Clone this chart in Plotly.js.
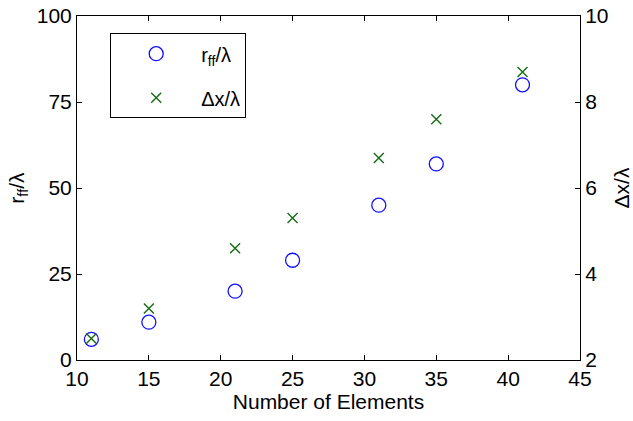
<!DOCTYPE html>
<html>
<head>
<meta charset="utf-8">
<script src="https://cdn.plot.ly/plotly-3.0.1.min.js"></script>
<style>
  html, body { margin: 0; padding: 0; background: #fff; }
  #chart { width: 633px; height: 421px; }
</style>
</head>
<body>
<div id="chart"></div>
<script>
// Array sizes (number of elements)
const elements = [11, 15, 21, 25, 31, 35, 41];
// Far-field distance normalised by wavelength (left axis)
const rffOverLambda = [6, 11, 20, 29, 45, 57, 80];
// Element spacing normalised by wavelength (right axis)
const dxOverLambda = [2.5, 3.2, 4.6, 5.3, 6.7, 7.6, 8.7];

const xTicks = [10, 15, 20, 25, 30, 35, 40, 45];
const yLeftTicks = [0, 25, 50, 75, 100];
const yRightTicks = [2, 4, 6, 8, 10];

const FONT = 'Liberation Sans, Arial, Helvetica, sans-serif';

const traces = [
  {
    x: elements, y: rffOverLambda, name: 'r<sub>ff</sub>/λ',
    type: 'scatter', mode: 'markers', yaxis: 'y', legendgroup: 'a',
    marker: { symbol: 'circle-open', size: 14, color: '#1010ff', line: { width: 1.3, color: '#1010ff' } }
  },
  {
    x: elements, y: dxOverLambda, name: 'Δx/λ',
    type: 'scatter', mode: 'markers', yaxis: 'y2', legendgroup: 'b',
    marker: { symbol: 'x-thin-open', size: 10, color: '#156b15', line: { width: 1.4, color: '#156b15' } }
  }
];

const axisCommon = {
  showgrid: false, zeroline: false, showline: true, linecolor: '#000', linewidth: 1,
  ticks: 'inside', ticklen: 5, tickcolor: '#000', tickwidth: 1,
  tickfont: { family: FONT, size: 21, color: '#000' }
};

const layout = {
  width: 633, height: 421,
  margin: { l: 77, r: 53, t: 16, b: 61 },
  paper_bgcolor: '#fff', plot_bgcolor: '#fff',
  font: { family: FONT, color: '#000' },
  xaxis: Object.assign({}, axisCommon, {
    range: [10, 45], tickvals: xTicks, mirror: 'ticks',
    title: { text: 'Number of Elements', font: { family: FONT, size: 21, color: '#000' }, standoff: 3 }
  }),
  yaxis: Object.assign({}, axisCommon, {
    range: [0, 100], tickvals: yLeftTicks,
    title: { text: 'r<sub>ff</sub>/λ', font: { family: FONT, size: 21, color: '#000' }, standoff: 6 }
  }),
  yaxis2: Object.assign({}, axisCommon, {
    range: [2, 10], tickvals: yRightTicks, overlaying: 'y', side: 'right',
    title: { text: 'Δx/λ', font: { family: FONT, size: 21, color: '#000' }, standoff: 8 }
  }),
  showlegend: true,
  legend: {
    x: 0.066, y: 0.95, xanchor: 'left', yanchor: 'top',
    bordercolor: '#000', borderwidth: 1, bgcolor: '#fff',
    font: { family: FONT, size: 20, color: '#000' },
    traceorder: 'grouped', tracegroupgap: 15, itemwidth: 80
  }
};

Plotly.newPlot('chart', traces, layout, { displayModeBar: false, staticPlot: true });
</script>
</body>
</html>
